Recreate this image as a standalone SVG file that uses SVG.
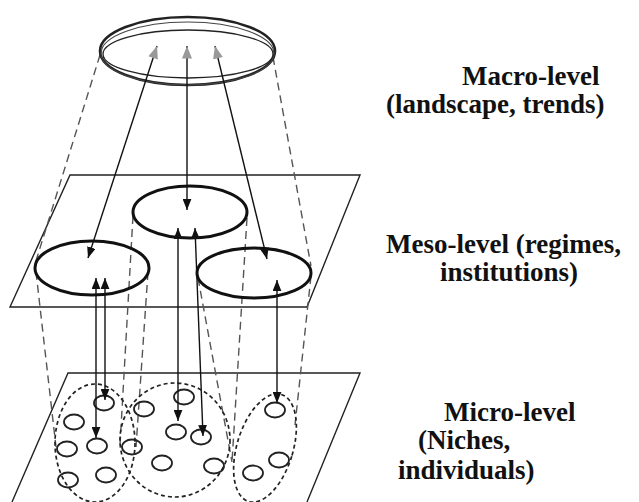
<svg xmlns="http://www.w3.org/2000/svg" width="639" height="502" viewBox="0 0 639 502">
<style>
.plane{fill:none;stroke:#222;stroke-width:1.4}
.proj{fill:none;stroke:#555;stroke-width:1.4;stroke-dasharray:8 5}
.meso{fill:none;stroke:#111;stroke-width:3}
.niche{fill:none;stroke:#222;stroke-width:1.7;stroke-dasharray:4 3}
.ind{fill:none;stroke:#222;stroke-width:1.8}
.arr{fill:none;stroke:#111;stroke-width:1.4}
.up{marker-start:url(#blk);marker-end:url(#gray)}
.dn{marker-start:url(#blk);marker-end:url(#blk)}
.lbl{font-family:"Liberation Serif","Times New Roman",serif;font-weight:bold;font-size:27px;fill:#111}
</style>
<defs>
<marker id="blk" viewBox="0 0 10 8" refX="10" refY="4" markerWidth="11" markerHeight="9" markerUnits="userSpaceOnUse" orient="auto-start-reverse">
<path d="M0,0 L10,4 L0,8 Z" fill="#111"/>
</marker>
<marker id="gray" viewBox="0 0 10 8" refX="10" refY="4" markerWidth="13" markerHeight="10" markerUnits="userSpaceOnUse" orient="auto-start-reverse">
<path d="M0,0 L10,4 L0,8 Z" fill="#999"/>
</marker>
</defs>
<rect width="639" height="502" fill="#fff"/>

<g id="meso-plane"><polygon class="plane" points="70,175 360,175 307,307 10,307"/></g>
<g id="micro-plane"><polyline class="plane" points="12,502 68,373 360,373 307,502"/></g>

<g id="projections">
<line class="proj" x1="100" y1="55" x2="35" y2="264"/>
<line class="proj" x1="273" y1="57" x2="311" y2="266"/>
<line class="proj" x1="36" y1="272" x2="56" y2="447"/>
<line class="proj" x1="148" y1="272" x2="136" y2="447"/>
<line class="proj" x1="133" y1="216" x2="120" y2="445"/>
<line class="proj" x1="247" y1="218" x2="232" y2="462"/>
<line class="proj" x1="198" y1="278" x2="232" y2="462"/>
<line class="proj" x1="311" y1="276" x2="295" y2="425"/>
</g>

<g id="macro">
<ellipse cx="187.5" cy="51" rx="87.5" ry="34" fill="none" stroke="#222" stroke-width="2.6"/>
<ellipse cx="187.5" cy="53.5" rx="86.5" ry="31.5" fill="none" stroke="#444" stroke-width="1.1"/>
<ellipse cx="188" cy="54" rx="85" ry="24" fill="none" stroke="#222" stroke-width="1.3"/>
</g>

<g id="meso-regimes">
<ellipse id="regime-mid" class="meso" cx="190" cy="212" rx="57" ry="26"/>
<ellipse id="regime-left" class="meso" cx="92" cy="268" rx="57" ry="27"/>
<ellipse id="regime-right" class="meso" cx="254" cy="273" rx="57" ry="25"/>
</g>

<g id="micro-niches">
<ellipse id="niche-left" class="niche" cx="95" cy="443" rx="40" ry="59"/>
<ellipse id="niche-mid" class="niche" cx="175" cy="440" rx="55" ry="57"/>
<ellipse id="niche-right" class="niche" cx="265" cy="448" rx="28" ry="56" transform="rotate(17 265 448)"/>
</g>

<g id="individuals">
<ellipse class="ind" cx="104" cy="403" rx="10" ry="7.5"/>
<ellipse class="ind" cx="74" cy="422" rx="10" ry="7.5"/>
<ellipse class="ind" cx="67" cy="449" rx="10" ry="7.5"/>
<ellipse class="ind" cx="97" cy="446" rx="10" ry="7.5"/>
<ellipse class="ind" cx="68" cy="480" rx="10" ry="7.5"/>
<ellipse class="ind" cx="106" cy="475" rx="10" ry="7.5"/>
<ellipse class="ind" cx="144" cy="409" rx="10" ry="7.5"/>
<ellipse class="ind" cx="184" cy="397" rx="10" ry="7.5"/>
<ellipse class="ind" cx="176" cy="432" rx="10" ry="7.5"/>
<ellipse class="ind" cx="201" cy="437" rx="10" ry="7.5"/>
<ellipse class="ind" cx="132" cy="447" rx="10" ry="7.5"/>
<ellipse class="ind" cx="162" cy="463" rx="10" ry="7.5"/>
<ellipse class="ind" cx="214" cy="466" rx="10" ry="7.5"/>
<ellipse class="ind" cx="275" cy="410" rx="10" ry="7.5"/>
<ellipse class="ind" cx="279" cy="460" rx="10" ry="7.5"/>
<ellipse class="ind" cx="253" cy="473" rx="10" ry="7.5"/>
</g>

<g id="connectors">
<line class="arr up" x1="88" y1="258" x2="157" y2="46"/>
<line class="arr up" x1="187" y1="210" x2="187" y2="46"/>
<line class="arr up" x1="267" y1="259" x2="215" y2="46"/>
<line class="arr dn" x1="96" y1="278" x2="96" y2="438"/>
<line class="arr dn" x1="105" y1="278" x2="105" y2="400"/>
<line class="arr dn" x1="178" y1="228" x2="178" y2="421"/>
<line class="arr dn" x1="195" y1="228" x2="203" y2="436"/>
<line class="arr dn" x1="277" y1="280" x2="277" y2="403"/>
</g>

<g id="labels">
<text class="lbl" x="462" y="85">Macro-level</text>
<text class="lbl" x="386" y="113">(landscape, trends)</text>
<text class="lbl" x="386" y="253">Meso-level (regimes,</text>
<text class="lbl" x="440" y="281">institutions)</text>
<text class="lbl" x="444" y="421">Micro-level</text>
<text class="lbl" x="418" y="449">(Niches,</text>
<text class="lbl" x="398" y="479">individuals)</text>
</g>
</svg>
